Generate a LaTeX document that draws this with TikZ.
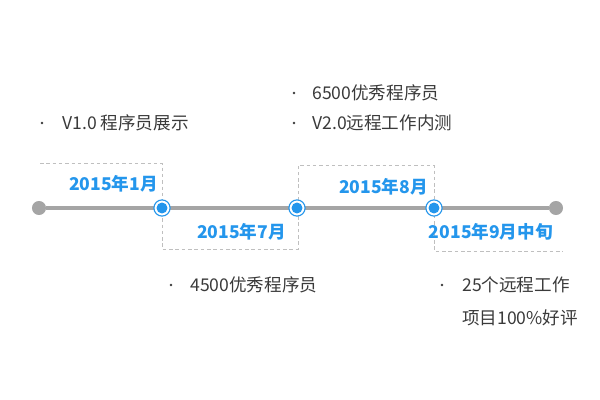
\documentclass[tikz,border=0pt]{standalone}
\usepackage{fontspec}
\setmainfont{Noto Sans CJK SC}
\definecolor{tlblue}{HTML}{2496EC}
\definecolor{tlgray}{HTML}{A5A5A5}
\definecolor{txtgray}{HTML}{3A3A3A}
\begin{document}
\begin{tikzpicture}[x=0.025cm, y=-0.025cm]
% Estilos
\tikzset{
  enddot/.style={circle, fill=tlgray, minimum size=10pt, inner sep=0pt},
  marker/.style={circle, draw=tlblue, line width=0.8pt, fill=white, minimum size=11.5pt, inner sep=0pt,
    path picture={\fill[tlblue] (path picture bounding box.center) circle (3.9pt);}},
  tline/.style={draw=tlgray, line width=3.4pt},
  guide/.style={draw=black!25, dashed, line width=0.6pt, dash pattern=on 2.5pt off 2pt},
  datelabel/.style={anchor=east, inner sep=0pt, text=tlblue, font=\fontsize{12.5}{15}\selectfont\bfseries},
  item/.style={anchor=west, inner sep=0pt, text=txtgray, font=\fontsize{12.5}{15}\selectfont},
  bul/.style={circle, fill=txtgray, minimum size=2.1pt, inner sep=0pt}
}
\useasboundingbox (0,0) rectangle (600,400);

% Linhas tracejadas
\coordinate (g0) at (40,163);
\coordinate (g1) at (162,163);
\coordinate (g2) at (162,249);
\coordinate (g3) at (298,249);
\coordinate (g4) at (298,165);
\coordinate (g5) at (434,165);
\coordinate (g6) at (434,251);
\coordinate (g7) at (563,251);
\draw[guide] (g0) -- (g1) -- (g2) -- (g3) -- (g4) -- (g5) -- (g6) -- (g7);

% Linha do tempo
\node[enddot] (start) at (39,208) {};
\node[enddot] (stop) at (556,208) {};
\draw[tline] (start) -- (stop);
\node[marker] (m1) at (162,208) {};
\node[marker] (m2) at (297,208) {};
\node[marker] (m3) at (434,208) {};

% Datas
\node[datelabel] (d1) at (158,184) {2015年1月};
\node[datelabel] (d2) at (286,232) {2015年7月};
\node[datelabel] (d3) at (428,187) {2015年8月};
\node[datelabel] (d4) at (553,232) {2015年9月中旬};

% Itens
\node[bul] (p1) at (42,123) {};
\node[item] (t1) at (62,123) {V1.0 程序员展示};
\node[bul] (p2) at (294,93) {};
\node[item] (t2) at (312,93) {6500优秀程序员};
\node[bul] (p3) at (294,123) {};
\node[item] (t3) at (312,123) {V2.0远程工作内测};
\node[bul] (p4) at (171,285) {};
\node[item] (t4) at (190,285) {4500优秀程序员};
\node[bul] (p5) at (442,285) {};
\node[item] (t5) at (462,285) {25个远程工作};
\node[item] (t6) at (462,318) {项目100\%好评};

\end{tikzpicture}
\end{document}
